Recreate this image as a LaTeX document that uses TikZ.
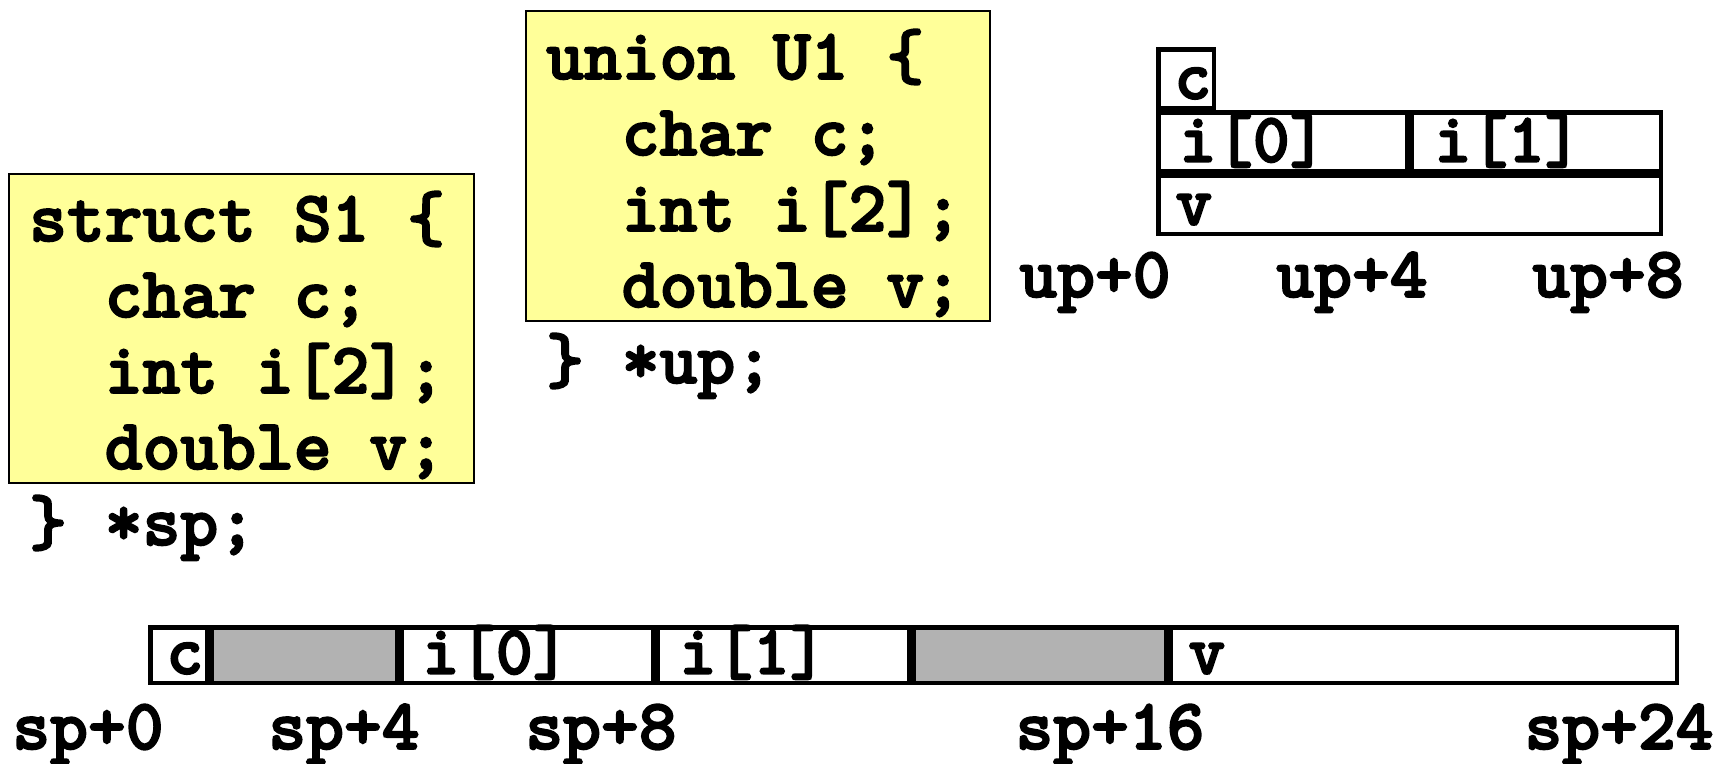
\documentclass[tikz,border=0pt]{standalone}
\usepackage{fontspec}
\usetikzlibrary{calc}
\definecolor{codeyellow}{HTML}{FFFF99}
\definecolor{padgray}{HTML}{B2B2B2}
\newfontfamily\codefont{lmmonolt10-bold.otf}[FakeBold=2.5]
\begin{document}
\begin{tikzpicture}[x=1pt,y=-1pt,
  codebox/.style={draw=black, line width=1.5pt, fill=codeyellow, anchor=north west, inner sep=0pt, outer sep=0pt},
  codeline/.style={anchor=base west, inner sep=0pt, font=\codefont\fontsize{72}{80}\selectfont},
  cell/.style={draw=black, line width=4.5pt, fill=white, anchor=north west, inner sep=0pt, outer sep=0pt},
  pad/.style={cell, fill=padgray},
  celltext/.style={anchor=base west, inner sep=0pt, font=\codefont\fontsize{70}{78}\selectfont},
  addr/.style={anchor=base, inner sep=0pt, font=\codefont\fontsize{72}{80}\selectfont}
]
\useasboundingbox (0,0) rectangle (1715,763);

% struct code box
\node[codebox, minimum width=465pt, minimum height=309pt] (sbox) at (9,174) {};
\node[codeline] (s1) at (29,241) {struct S1 \{};
\node[codeline] (s2) at (29,317) {\phantom{xx}char c;};
\node[codeline] (s3) at (29,393) {\phantom{xx}int i[2];};
\node[codeline] (s4) at (29,469) {\phantom{xx}double v;};
\node[codeline] (s5) at (29,545) {\} *sp;};

% union code box
\node[codebox, minimum width=464pt, minimum height=310pt] (ubox) at (526,11) {};
\node[codeline] (u1) at (546,79) {union U1 \{};
\node[codeline] (u2) at (546,155) {\phantom{xx}char c;};
\node[codeline] (u3) at (546,231) {\phantom{xx}int i[2];};
\node[codeline] (u4) at (546,307) {\phantom{xx}double v;};
\node[codeline] (u5) at (546,383) {\} *up;};

% union layout
\node[cell, minimum width=55.5pt, minimum height=58.5pt] (uc) at (1158.25,49.25) {};
\node[cell, minimum width=248.5pt, minimum height=58.5pt] (ui0) at (1158.25,112.25) {};
\node[cell, minimum width=249.5pt, minimum height=58.5pt] (ui1) at (1411.25,112.25) {};
\node[cell, minimum width=502.5pt, minimum height=58.5pt] (uv) at (1158.25,175.25) {};
\node[celltext] (tuc) at ($(uc.south west)+(16,-9)$) {c};
\node[celltext] (tui0) at ($(ui0.south west)+(21,-9)$) {i[0]};
\node[celltext] (tui1) at ($(ui1.south west)+(23,-9)$) {i[1]};
\node[celltext] (tuv) at ($(uv.south west)+(17,-9)$) {v};
\node[addr] (up0) at (1095,297) {up+0};
\node[addr] (up4) at (1352,297) {up+4};
\node[addr] (up8) at (1608,297) {up+8};

% struct layout
\node[cell, minimum width=56.5pt, minimum height=55.5pt] (sc) at (150.25,627.25) {};
\node[pad, minimum width=185.5pt, minimum height=55.5pt] (sg1) at (211.25,627.25) {};
\node[cell, minimum width=251.5pt, minimum height=55.5pt] (si0) at (401.25,627.25) {};
\node[cell, minimum width=251.5pt, minimum height=55.5pt] (si1) at (657.25,627.25) {};
\node[pad, minimum width=252.5pt, minimum height=55.5pt] (sg2) at (913.25,627.25) {};
\node[cell, minimum width=506.5pt, minimum height=55.5pt] (sv) at (1170.25,627.25) {};
\node[celltext] (tsc) at ($(sc.south west)+(16,-9)$) {c};
\node[celltext] (tsi0) at ($(si0.south west)+(21,-9)$) {i[0]};
\node[celltext] (tsi1) at ($(si1.south west)+(22,-9)$) {i[1]};
\node[celltext] (tsv) at ($(sv.south west)+(18,-9)$) {v};
\node[addr] (sp0) at (88,749) {sp+0};
\node[addr] (sp4) at (344,749) {sp+4};
\node[addr] (sp8) at (601,749) {sp+8};
\node[addr] (sp16) at (1110,749) {sp+16};
\node[addr] (sp24) at (1619,749) {sp+24};
\end{tikzpicture}
\end{document}
